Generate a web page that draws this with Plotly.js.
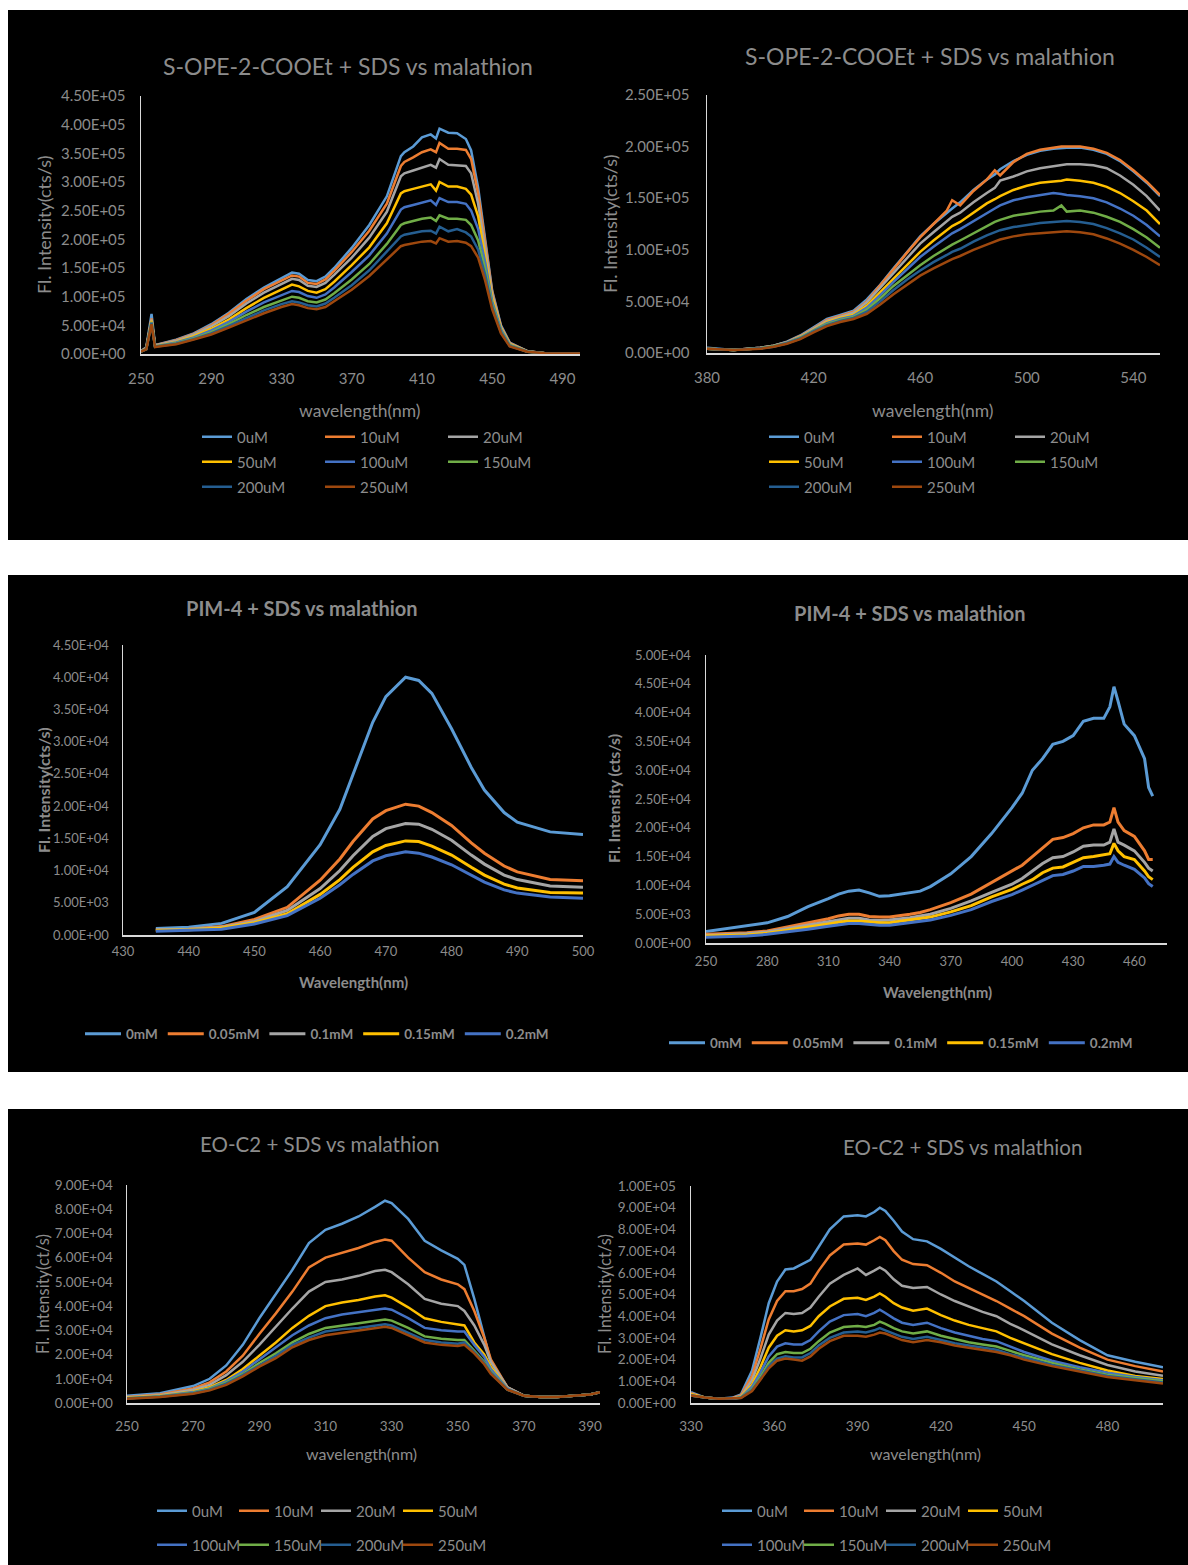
<!DOCTYPE html>
<html><head><meta charset="utf-8">
<script src="https://cdn.plot.ly/plotly-3.0.1.min.js"></script>
<style>html,body{margin:0;padding:0;background:#fff;}#chart{width:1188px;height:1565px;}</style>
</head><body><div id="chart"></div>
<script>
// ---------------- DATA ----------------
// Chart 1: S-OPE-2-COOEt + SDS vs malathion (left)
const c1Wavelength = [250,253,256,258,260,270,280,290,300,310,320,330,336,340,345,350,355,360,370,380,390,398,400,405,410,415,418,420,425,430,435,438,442,446,450,455,460,470,480,490,500];
const c1_0uM   = [5000,12000,70000,16000,17000,25000,36000,52000,72000,96000,116000,132000,142000,140000,129000,127000,135000,150000,185000,225000,275000,345000,352000,362000,378000,383000,376000,393000,386000,385000,375000,355000,290000,200000,110000,50000,20000,5000,1500,1000,1000];
const c1_10uM  = [5000,11000,62000,15000,16500,24000,35000,50000,70000,93000,113000,128000,137000,135000,124000,122000,130000,145000,178000,215000,262000,328000,335000,343000,352000,357000,352000,368000,358000,358000,356000,340000,280000,195000,108000,48000,19000,5000,1500,1000,1000];
const c1_20uM  = [5000,10000,60000,15000,16000,23000,34000,48000,66000,88000,107000,122000,131000,129000,119000,117000,124000,138000,168000,203000,248000,310000,315000,320000,325000,330000,325000,340000,330000,329000,328000,315000,262000,185000,104000,47000,18000,5000,1500,1000,1000];
const c1_50uM  = [4500,9500,58000,14000,15000,21000,31000,44000,60000,80000,98000,112000,121000,118000,110000,107000,113000,126000,155000,186000,228000,280000,284000,288000,292000,296000,285000,300000,292000,292000,288000,278000,240000,172000,98000,45000,17000,4500,1500,1000,1000];
const c1_100uM = [4500,9000,56000,13500,14500,20000,29000,41000,56000,74000,90000,103000,110000,108000,101000,98000,104000,116000,143000,172000,210000,252000,256000,260000,264000,268000,260000,272000,265000,265000,262000,250000,218000,160000,92000,43000,16000,4500,1500,1000,1000];
const c1_150uM = [4000,8500,55000,13000,14000,19000,27000,38000,52000,68000,82000,94000,100000,98000,92000,90000,95000,106000,130000,157000,192000,225000,228000,232000,236000,238000,232000,242000,236000,236000,234000,225000,198000,148000,86000,40000,15000,4000,1500,1000,1000];
const c1_200uM = [4000,8000,54000,12500,13500,18000,26000,36000,49000,63000,76000,87000,92000,90000,85000,83000,88000,98000,120000,146000,178000,205000,208000,211000,214000,215000,210000,222000,214000,218000,212000,205000,182000,138000,82000,38000,14000,4000,1500,1000,1000];
const c1_250uM = [4000,8000,52000,12000,13000,17000,25000,34000,46000,59000,71000,82000,87000,85000,80000,78000,82000,92000,112000,136000,165000,188000,190000,193000,196000,197000,193000,202000,196000,197000,194000,188000,168000,128000,78000,36000,13000,4000,1500,1000,1000];

// Chart 2: S-OPE-2-COOEt + SDS vs malathion (right)
const c2Wavelength = [380,390,400,405,410,415,420,425,430,435,440,445,450,455,460,465,470,472,475,480,485,488,490,495,500,505,510,513,515,520,525,530,535,540,545,550];
const c2_0uM   = [5000,3000,5000,7000,11000,17000,25000,33000,37000,41000,52000,66000,82000,98000,113000,125000,136000,140000,146000,158000,168000,173000,178000,186000,192000,196000,198000,199000,199000,199000,197000,193000,186000,176000,165000,152000];
const c2_10uM  = [4000,3000,5000,7000,10500,16500,24000,32000,36000,40000,50000,65000,81000,97000,112000,125000,138000,148000,143000,157000,168000,177000,172000,185000,193000,197000,199000,200000,200000,200000,198000,194000,187000,177000,166000,153000];
const c2_20uM  = [4000,3000,5000,7000,10500,16000,23500,31000,35000,39000,49000,63000,78000,92000,106000,117000,128000,132000,136000,146000,155000,160000,167000,171000,176000,179000,181000,182000,183000,183000,182000,179000,172000,163000,152000,138000];
const c2_50uM  = [4000,3000,4500,6500,10000,15500,22500,30000,34000,37000,46000,59000,73000,86000,98000,109000,119000,123000,127000,136000,145000,149000,152000,158000,162000,165000,166000,167000,168000,167000,165000,161000,155000,147000,138000,125000];
const c2_100uM = [4000,3000,4500,6500,10000,15000,22000,29000,33000,36000,44000,56000,69000,81000,93000,103000,112000,116000,120000,128000,136000,140000,143000,148000,151000,153000,155000,154000,153000,152000,150000,146000,140000,133000,124000,113000];
const c2_150uM = [4000,3000,4500,6500,9500,14500,21500,28000,32000,35000,42000,53000,65000,75000,85000,94000,102000,105000,109000,116000,123000,127000,129000,133000,135000,137000,138000,143000,137000,138000,136000,132000,127000,120000,112000,102000];
const c2_200uM = [4000,3000,4500,6000,9500,14000,21000,27000,31000,34000,40000,50000,61000,71000,80000,88000,95000,98000,101000,108000,114000,117000,119000,122000,124000,126000,127000,128000,128000,127000,125000,121000,116000,110000,102000,93000];
const c2_250uM = [4000,3000,4000,6000,9000,13500,20000,26000,30000,33000,38000,47000,57000,66000,75000,82000,89000,91000,94000,100000,105000,108000,110000,113000,115000,116000,117000,117000,118000,117000,115000,111000,106000,100000,93000,85000];

// Chart 3: PIM-4 + SDS vs malathion (left)
const c3Wavelength = [435,440,445,450,455,460,463,465,468,470,473,475,477,480,483,485,488,490,495,500];
const c3_0mM    = [1000,1200,1800,3500,7500,14000,19500,25000,33000,37000,40000,39500,37500,32000,26000,22500,19000,17500,16000,15600];
const c3_005mM  = [800,900,1300,2400,4300,8500,11800,14500,18000,19300,20300,20000,19000,17000,14300,12700,10700,9800,8600,8400];
const c3_01mM   = [800,900,1200,2100,3800,7200,10000,12300,15300,16500,17300,17200,16400,14700,12400,11000,9300,8600,7600,7400];
const c3_015mM  = [700,800,1100,1900,3300,6300,8600,10500,12900,13900,14600,14500,13800,12400,10500,9300,7900,7300,6600,6500];
const c3_02mM   = [600,700,900,1700,3000,5700,7800,9400,11500,12300,12900,12700,12100,10900,9200,8200,7000,6500,5900,5700];

// Chart 4: PIM-4 + SDS vs malathion (right)
const c4Wavelength = [250,260,270,280,290,300,310,315,320,325,330,335,340,350,355,360,370,380,390,400,405,410,415,420,425,430,435,440,445,448,450,452,455,460,465,467,469];
const c4_0mM    = [2000,2500,3000,3500,4600,6300,7700,8500,9000,9200,8700,8100,8200,8700,9000,9800,12000,15000,19000,23500,26000,30000,32000,34500,35000,36000,38500,39000,39000,41000,44500,42000,38000,36000,32000,27000,25500];
const c4_005mM  = [1500,1600,1800,2100,2800,3500,4200,4700,5000,5000,4600,4500,4500,5000,5300,5800,7000,8500,10500,12500,13500,15000,16500,18000,18300,19000,20000,20500,20500,21000,23500,21000,19500,18500,16000,14500,14500];
const c4_01mM   = [1300,1400,1600,1900,2500,3100,3700,4100,4300,4300,4000,3900,4000,4400,4700,5000,6000,7300,8800,10200,11200,12500,13800,14800,15000,15800,16800,17000,17000,17500,19800,17500,17000,16000,14000,13000,12500];
const c4_015mM  = [1200,1300,1400,1700,2200,2700,3300,3600,3800,3800,3600,3500,3500,4000,4200,4500,5400,6500,8000,9300,10200,11000,12200,13000,13200,14000,14800,15000,15300,15500,17300,16000,15000,14500,12500,11500,11000];
const c4_02mM   = [1000,1100,1200,1500,1900,2400,2900,3200,3400,3400,3200,3100,3100,3500,3700,4000,4800,5800,7200,8400,9200,10000,10800,11700,11900,12500,13300,13300,13500,13700,15000,14000,13500,12800,11300,10300,9800];

// Chart 5: EO-C2 + SDS vs malathion (left)
const c5Wavelength = [250,260,270,275,280,285,290,295,300,305,310,315,320,325,328,330,335,340,345,350,352,355,358,360,365,370,375,380,385,390,393];
const c5_0uM   = [3000,4000,7000,10000,15500,24000,35000,45000,55000,66000,71500,74000,77000,81000,83500,82500,76000,67000,63000,59500,57000,43000,28000,17000,6500,3000,2500,2500,3000,3500,4500];
const c5_10uM  = [2500,3500,6000,8500,13000,19500,28500,37000,46000,56000,60000,62000,64000,66500,67500,67000,60000,54000,51000,49000,47000,38000,27000,18000,6500,3000,2500,2500,3000,3500,4500];
const c5_20uM  = [2300,3200,5500,7500,11500,17000,24000,31500,39000,46000,50000,51000,52500,54500,55000,54000,49000,43000,41000,40000,38000,32000,24000,17000,6500,3000,2500,2500,3000,3500,4500];
const c5_50uM  = [2200,3000,4800,6500,9500,14000,19500,25000,31000,36000,40000,41500,42500,44000,44500,43500,39500,35000,33500,32500,32000,25000,20000,15000,6000,3000,2500,2500,3000,3500,4500];
const c5_100uM = [2000,2800,4500,6000,9000,13000,18000,23000,28000,32000,35000,36500,37500,38500,39000,38500,35000,31000,30000,29500,29500,24000,19000,14000,6000,3000,2500,2500,3000,3500,4500];
const c5_150uM = [2000,2700,4200,5800,8500,12000,16500,20500,25000,28500,31000,32000,33000,34000,34500,34000,31000,27500,26500,26000,26000,21500,17000,13000,5500,3000,2500,2500,3000,3500,4500];
const c5_200uM = [1900,2600,4000,5500,8000,11500,15500,19500,24000,27000,29500,30500,31000,32000,32500,32000,29000,26000,25000,24500,25000,21000,16500,12500,5500,3000,2500,2500,3000,3500,4500];
const c5_250uM = [1800,2500,3800,5200,7500,11000,15000,18500,23000,26000,28000,29000,30000,31000,31500,31000,28000,25000,24000,23500,24000,20500,16000,12000,5500,3000,2500,2500,3000,3500,4500];

// Chart 6: EO-C2 + SDS vs malathion (right)
const c6Wavelength = [330,335,340,345,348,352,355,358,361,364,367,370,373,376,380,385,390,393,396,398,400,403,406,410,415,420,425,430,435,440,445,450,460,470,480,490,500];
const c6_0uM   = [5000,2500,2000,2500,4000,15000,30000,46000,56000,61500,62000,64000,66000,72000,80000,86000,86500,86000,88000,90000,88500,84000,79000,75500,74500,71000,67000,63000,59500,56000,51500,47000,37000,29000,22000,19000,16500];
const c6_10uM  = [4500,2500,2000,2300,3500,12500,25000,38500,47000,51500,51500,52500,55000,61000,68000,73000,73500,73000,75000,76500,75000,70000,66000,64000,63500,60000,56000,53000,50000,47000,43500,40000,32000,25500,20000,17000,14500];
const c6_20uM  = [4000,2500,2000,2200,3000,10500,20500,31500,38000,41500,41000,41500,44000,49000,55000,59000,62000,59000,61000,62500,61000,57000,54000,53000,53500,50000,47000,44500,42000,40000,36500,33500,27000,22000,17500,14500,12500];
const c6_50uM  = [4000,2500,2000,2000,2800,8500,16500,25500,31000,33500,33000,33500,35500,40000,44500,48000,48500,47500,49000,50500,49000,46000,44000,42500,43500,40500,38000,36000,34500,33000,30000,27500,22500,18500,15000,12500,11000];
const c6_100uM = [3500,2500,2000,2000,2600,7500,14000,21500,26000,27500,27000,27000,29000,33000,37500,40500,41000,40000,41500,43000,41500,39000,37000,36000,37000,34500,32500,31000,29500,28500,26000,23500,19500,16500,14000,12000,10500];
const c6_150uM = [3500,2500,2000,2000,2500,6500,12000,18500,22500,23500,23000,23000,25000,28500,32500,35000,35500,35000,36000,37500,36500,34500,33000,32000,33000,31000,29500,28000,27000,26000,24000,22000,18500,15500,13000,11500,10000];
const c6_200uM = [3500,2500,2000,2000,2400,6000,11000,17000,20500,21500,21000,21000,23000,26500,30000,32500,33000,32500,33500,34500,33500,32000,30500,29500,30500,29000,27500,26500,25500,24500,22500,21000,17500,15000,12500,11000,9500];
const c6_250uM = [3500,2500,2000,2000,2300,5500,10500,16000,19500,20500,20000,19500,21500,25000,28500,31000,31000,30500,31500,32500,32000,30500,29000,28000,29000,28000,26500,25500,24500,23500,22000,20000,17000,14500,12000,10500,9000];

const uMNames = ['0uM','10uM','20uM','50uM','100uM','150uM','200uM','250uM'];
const mMNames = ['0mM','0.05mM','0.1mM','0.15mM','0.2mM'];
const titles = ['S-OPE-2-COOEt + SDS vs malathion','S-OPE-2-COOEt + SDS vs malathion','PIM-4 + SDS vs malathion','PIM-4 + SDS vs malathion','EO-C2 + SDS vs malathion','EO-C2 + SDS vs malathion'];
const xTitles = ['wavelength(nm)','wavelength(nm)','Wavelength(nm)','Wavelength(nm)','wavelength(nm)','wavelength(nm)'];
const yTitles = ['Fl. Intensity(cts/s)','Fl. Intensity(cts/s)','Fl. Intensity(cts/s)','Fl. Intensity (cts/s)','Fl. Intensity(ct/s)','Fl. Intensity(ct/s)'];

// ---------------- STYLE / LAYOUT ----------------
const W = 1188, H = 1565;
const px = v => v / W;
const py = v => 1 - v / H;
const FONT = 'Lato, "Open Sans", sans-serif';
const TXT = '#8c8c8c';
const AXL = '#d9d9d9';
const COLORS = ['#5B9BD5','#ED7D31','#A5A5A5','#FFC000','#4472C4','#70AD47','#255E91','#9E480E'];

// box: [left, right, top, bottom] in page pixels
const charts = [
  {xs:c1Wavelength, ys:[c1_0uM,c1_10uM,c1_20uM,c1_50uM,c1_100uM,c1_150uM,c1_200uM,c1_250uM], names:uMNames,
   box:[141,580,96,354], xr:[250,500], x0:250, dx:40, ymax:450000, ystep:50000,
   title:[348,66,23,false], xt:[360,410], yt:[44,225], bold:false, xlab:24, ylab:14,
   fs:{tick:15, xt:17.5, yt:18, leg:15}, iw:30, lw:2.5,
   legends:[{idx:[0,1,2],x:205,y:437,ew:78},{idx:[3,4,5],x:205,y:462,ew:78},{idx:[6,7],x:205,y:487,ew:78}]},
  {xs:c2Wavelength, ys:[c2_0uM,c2_10uM,c2_20uM,c2_50uM,c2_100uM,c2_150uM,c2_200uM,c2_250uM], names:uMNames,
   box:[707,1160,95,353], xr:[380,550], x0:380, dx:40, ymax:250000, ystep:50000,
   title:[930,56,23,false], xt:[933,410], yt:[610,224], bold:false, xlab:24, ylab:16,
   fs:{tick:15, xt:17.5, yt:18, leg:15}, iw:30, lw:2.5,
   legends:[{idx:[0,1,2],x:772,y:437,ew:78},{idx:[3,4,5],x:772,y:462,ew:78},{idx:[6,7],x:772,y:487,ew:78}]},
  {xs:c3Wavelength, ys:[c3_0mM,c3_005mM,c3_01mM,c3_015mM,c3_02mM], names:mMNames,
   box:[123,583,645,935], xr:[430,500], x0:430, dx:10, ymax:45000, ystep:5000,
   title:[302,608,20,true], xt:[354,982], yt:[43,790], bold:true, xlab:18, ylab:13,
   fs:{tick:13, xt:15, yt:16, leg:13.5}, iw:36, lw:3,
   legends:[{idx:[0,1,2,3,4],x:88,y:1034,ew:0}]},
  {xs:c4Wavelength, ys:[c4_0mM,c4_005mM,c4_01mM,c4_015mM,c4_02mM], names:mMNames,
   box:[706,1167,655,943], xr:[250,476], x0:250, dx:30, ymax:50000, ystep:5000,
   title:[910,613,20,true], xt:[937,992], yt:[613,799], bold:true, xlab:20, ylab:14,
   fs:{tick:13, xt:15, yt:16, leg:13.5}, iw:36, lw:3,
   legends:[{idx:[0,1,2,3,4],x:672,y:1043,ew:0}]},
  {xs:c5Wavelength, ys:[c5_0uM,c5_10uM,c5_20uM,c5_50uM,c5_100uM,c5_150uM,c5_200uM,c5_250uM], names:uMNames,
   box:[127,600,1185,1403], xr:[250,393], x0:250, dx:20, ymax:90000, ystep:10000,
   title:[319,1144,20.5,false], xt:[361,1453], yt:[43,1294], bold:false, xlab:24, ylab:13,
   fs:{tick:13.5, xt:16, yt:16.5, leg:15}, iw:30, lw:2.5,
   legends:[{idx:[0,1,2,3],x:160,y:1511,ew:37,pad:true},{idx:[4,5,6,7],x:160,y:1545,ew:37,pad:true}]},
  {xs:c6Wavelength, ys:[c6_0uM,c6_10uM,c6_20uM,c6_50uM,c6_100uM,c6_150uM,c6_200uM,c6_250uM], names:uMNames,
   box:[691,1163,1186,1403], xr:[330,500], x0:330, dx:30, ymax:100000, ystep:10000,
   title:[962,1147,20.5,false], xt:[926,1453], yt:[605,1294], bold:false, xlab:24, ylab:14,
   fs:{tick:13.5, xt:16, yt:16.5, leg:15}, iw:30, lw:2.5,
   legends:[{idx:[0,1,2,3],x:725,y:1511,ew:37,pad:true},{idx:[4,5,6,7],x:725,y:1545,ew:37,pad:true}]}
];

function sci(v){
  return v.toExponential(2).toUpperCase().replace(/E([+-])(\d)$/, 'E$10$2');
}

const traces = [];
const padTraces = [];
const layout = {
  width: W, height: H,
  margin:{l:0,r:0,t:0,b:0},
  paper_bgcolor:'#ffffff', plot_bgcolor:'#000000',
  font:{family:FONT, color:TXT},
  showlegend:true,
  shapes:[
    {type:'rect', xref:'paper', yref:'paper', x0:px(8), x1:1, y0:py(540), y1:py(10), fillcolor:'#000', line:{width:0}, layer:'below'},
    {type:'rect', xref:'paper', yref:'paper', x0:px(8), x1:1, y0:py(1072), y1:py(575), fillcolor:'#000', line:{width:0}, layer:'below'},
    {type:'rect', xref:'paper', yref:'paper', x0:px(8), x1:1, y0:0, y1:py(1109), fillcolor:'#000', line:{width:0}, layer:'below'}
  ],
  annotations:[]
};

let legendCount = 0;
charts.forEach((c, ci) => {
  const n = ci + 1;
  const sfx = n === 1 ? '' : String(n);
  const [l, r, t, b] = c.box;
  const wt = c.bold ? 'bold' : 'normal';
  const tickFont = {family:FONT, size:c.fs.tick, color:TXT};
  layout['xaxis' + sfx] = {
    domain:[px(l), px(r)], range:c.xr, tickmode:'linear', tick0:c.x0, dtick:c.dx,
    showline:true, linecolor:AXL, linewidth:1.5, showgrid:false, zeroline:false,
    ticks:'', tickfont:tickFont, ticklabelstandoff:c.xlab - 14, anchor:'y' + sfx, fixedrange:true
  };
  const tv = [], tt = [];
  const nT = Math.round(c.ymax / c.ystep);
  for (let i = 0; i <= nT; i++){ tv.push(i * c.ystep); tt.push(sci(i * c.ystep)); }
  layout['yaxis' + sfx] = {
    domain:[py(b), py(t)], range:[0, c.ymax], tickmode:'array', tickvals:tv, ticktext:tt,
    showline:true, linecolor:AXL, linewidth:1.5, showgrid:false, zeroline:false,
    ticks:'', tickfont:tickFont, ticklabelstandoff:c.ylab - 3, anchor:'x' + sfx, fixedrange:true
  };
  const legIdOf = {};
  c.legends.forEach(lg => {
    legendCount++;
    const lid = legendCount === 1 ? 'legend' : 'legend' + legendCount;
    layout[lid] = {
      x:px(lg.x - 8), y:py(lg.y), xanchor:'left', yanchor:'middle', orientation:'h',
      bgcolor:'rgba(0,0,0,0)', borderwidth:0, traceorder:'normal',
      font:{family:FONT, size:c.fs.leg, color:TXT, weight:wt},
      entrywidth:lg.ew, entrywidthmode:'pixels', itemwidth:c.iw,
      itemclick:false, itemdoubleclick:false
    };
    lg.idx.forEach(k => legIdOf[k] = lid);
    if (lg.pad) {
      // invisible spacer entry so the last label is not clipped by the legend box
      padTraces.push({type:'scatter', mode:'lines', x:[null], y:[null], name:'\u00a0',
        xaxis:'x' + sfx, yaxis:'y' + sfx, legend:lid, showlegend:true,
        line:{color:'rgba(0,0,0,0)', width:0}, hoverinfo:'skip'});
    }
  });
  c.ys.forEach((ys, k) => {
    traces.push({
      type:'scatter', mode:'lines', x:c.xs, y:ys, name:c.names[k],
      xaxis:'x' + sfx, yaxis:'y' + sfx, legend:legIdOf[k],
      line:{color:COLORS[k], width:c.lw}, hoverinfo:'skip'
    });
  });
  layout.annotations.push({xref:'paper', yref:'paper', x:px(c.title[0]), y:py(c.title[1]), text:titles[ci],
    showarrow:false, xanchor:'center', yanchor:'middle',
    font:{family:FONT, size:c.title[2], color:TXT, weight: c.title[3] ? 'bold' : 'normal'}});
  layout.annotations.push({xref:'paper', yref:'paper', x:px(c.xt[0]), y:py(c.xt[1]), text:xTitles[ci],
    showarrow:false, xanchor:'center', yanchor:'middle',
    font:{family:FONT, size:c.fs.xt, color:TXT, weight:wt}});
  layout.annotations.push({xref:'paper', yref:'paper', x:px(c.yt[0]), y:py(c.yt[1]), text:yTitles[ci],
    showarrow:false, xanchor:'center', yanchor:'middle', textangle:-90,
    font:{family:FONT, size:c.fs.yt, color:TXT, weight:wt}});
});

Plotly.newPlot('chart', traces.concat(padTraces), layout, {staticPlot:true, displayModeBar:false});
</script></body></html>
